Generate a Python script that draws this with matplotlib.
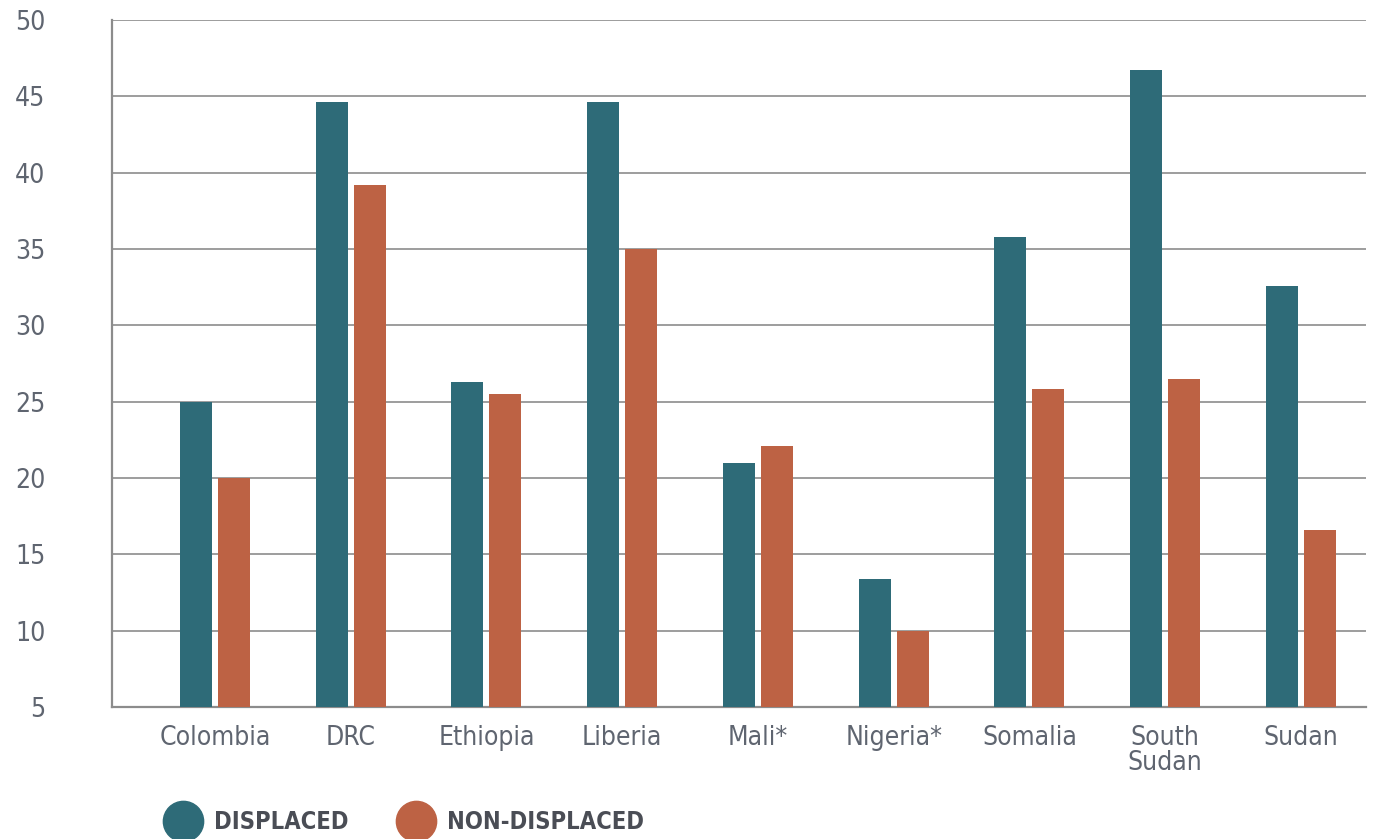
import matplotlib.pyplot as plt
import numpy as np
from matplotlib.lines import Line2D

# Share of respondents by country, displaced vs non-displaced
countries = ["Colombia", "DRC", "Ethiopia", "Liberia", "Mali*",
             "Nigeria*", "Somalia", "South\nSudan", "Sudan"]
displaced = [25.0, 44.6, 26.3, 44.6, 21.0, 13.4, 35.8, 46.7, 32.6]
non_displaced = [20.0, 39.2, 25.5, 35.0, 22.1, 10.0, 25.8, 26.5, 16.6]
y_ticks = [5, 10, 15, 20, 25, 30, 35, 40, 45, 50]

TEAL = "#2e6b78"
RUST = "#bd6244"
GRID = "#8c8c8c"
LABEL = "#5f6570"

plt.rcParams["font.family"] = ["DejaVu Sans"]
plt.rcParams["font.stretch"] = "condensed"

fig = plt.figure(figsize=(13.78, 8.39), dpi=100)
ax = fig.add_axes([0.0813, 0.1573, 0.9100, 0.8190])

x = np.arange(len(countries))
w = 0.236
off = 0.14
ax.bar(x - off, displaced, width=w, color=TEAL, zorder=3)
ax.bar(x + off, non_displaced, width=w, color=RUST, zorder=3)

ax.set_ylim(5, 50)
ax.set_xlim(-0.758, 8.479)
ax.set_yticks(y_ticks)
ax.yaxis.grid(True, color=GRID, linewidth=1.2, zorder=0)
ax.set_axisbelow(True)

for side in ("top", "right"):
    ax.spines[side].set_visible(False)
for side in ("left", "bottom"):
    ax.spines[side].set_color(GRID)
    ax.spines[side].set_linewidth(1.6)

ax.set_xticks(x)
ax.set_xticklabels(countries, linespacing=0.95)
ax.tick_params(axis="x", length=0, pad=13, labelsize=19, labelcolor=LABEL)
ax.tick_params(axis="y", length=0, pad=48, labelsize=19, labelcolor=LABEL)

handles = [
    Line2D([], [], marker="o", linestyle="none", markersize=29,
           markerfacecolor=TEAL, markeredgecolor=TEAL, label="DISPLACED"),
    Line2D([], [], marker="o", linestyle="none", markersize=29,
           markerfacecolor=RUST, markeredgecolor=RUST, label="NON-DISPLACED"),
]
leg = fig.legend(handles=handles, loc="center left", bbox_to_anchor=(0.1005, 0.02),
                 ncol=2, frameon=False, handletextpad=0.3, columnspacing=1.85,
                 prop={"weight": "bold", "size": 17})
for t in leg.get_texts():
    t.set_color("#4a4d55")

fig.savefig("out.png", dpi=100)
